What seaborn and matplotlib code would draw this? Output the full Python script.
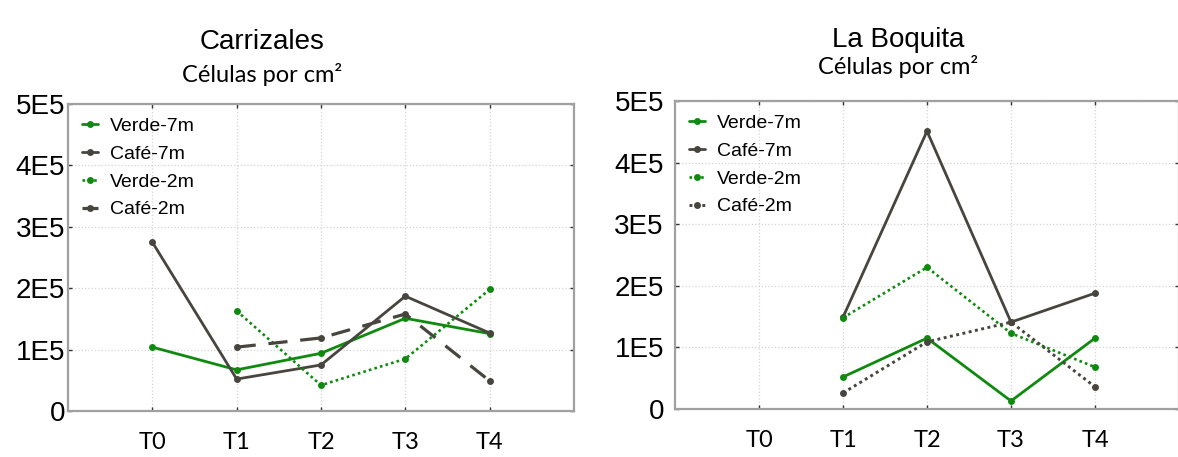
import numpy as np
import pandas as pd
import matplotlib
matplotlib.use("Agg")
import matplotlib.pyplot as plt
import seaborn as sns

tiempos = ['T0', 'T1', 'T2', 'T3', 'T4']
series = ['Verde-7m', 'Café-7m', 'Verde-2m', 'Café-2m']

# Carrizales (células por cm²)
carr_verde_7m = [1.04e5, 0.67e5, 0.94e5, 1.51e5, 1.26e5]
carr_cafe_7m = [2.75e5, 0.52e5, 0.75e5, 1.87e5, 1.27e5]
carr_verde_2m = [np.nan, 1.63e5, 0.42e5, 0.85e5, 1.98e5]
carr_cafe_2m = [np.nan, 1.04e5, 1.19e5, 1.58e5, 0.49e5]

# La Boquita
boq_verde_7m = [np.nan, 0.52e5, 1.15e5, 0.13e5, 1.15e5]
boq_cafe_7m = [np.nan, 1.49e5, 4.51e5, 1.41e5, 1.88e5]
boq_verde_2m = [np.nan, 1.48e5, 2.30e5, 1.23e5, 0.68e5]
boq_cafe_2m = [np.nan, 0.26e5, 1.09e5, 1.41e5, 0.36e5]

yticks = [0, 1e5, 2e5, 3e5, 4e5, 5e5]
ylabels = ['0', '1E5', '2E5', '3E5', '4E5', '5E5']

sns.set_theme(style="white")
plt.rcParams['font.family'] = ['Liberation Sans', 'DejaVu Sans']
plt.rcParams['text.color'] = 'black'
plt.rcParams['xtick.color'] = 'black'
plt.rcParams['ytick.color'] = 'black'

VERDE = '#0f8a0f'
CAFE = '#48453e'

fig = plt.figure(figsize=(11.78, 4.57), dpi=100)
ax1 = fig.add_axes([68/1178, 46/457, 506/1178, 307/457])
ax2 = fig.add_axes([675/1178, 48/457, 504/1178, 308/457])

paneles = [
    (ax1, [carr_verde_7m, carr_cafe_7m, carr_verde_2m, carr_cafe_2m], (0, (6, 4)), 2.3),
    (ax2, [boq_verde_7m, boq_cafe_7m, boq_verde_2m, boq_cafe_2m], (0, (1, 1.2)), 2.1),
]

for ax, datos, cafe2_ls, cafe2_lw in paneles:
    estilos = [
        dict(color=VERDE, linestyle='-', linewidth=2.0),
        dict(color=CAFE, linestyle='-', linewidth=2.0),
        dict(color=VERDE, linestyle=(0, (1, 1.2)), linewidth=1.9),
        dict(color=CAFE, linestyle=cafe2_ls, linewidth=cafe2_lw),
    ]
    for nombre, vals, est in zip(series, datos, estilos):
        df = pd.DataFrame({'x': np.arange(len(tiempos)), 'y': vals}).dropna()
        sns.lineplot(data=df, x='x', y='y', ax=ax, label=nombre, marker='o',
                     markersize=5, markeredgewidth=0, **est)

    ax.set_xlim(-1, 5)
    ax.set_ylim(0, 5e5)
    ax.set_xticks(range(len(tiempos)))
    ax.set_xticklabels(tiempos, family=['Lato', 'DejaVu Sans'], fontsize=17)
    ax.set_yticks(yticks)
    ax.set_yticklabels(ylabels, fontsize=20)
    ax.set_xlabel('')
    ax.set_ylabel('')
    ax.grid(True, color='#d4d4d4', linestyle=':', linewidth=0.9)
    ax.tick_params(axis='both', direction='in', length=3, width=1, color='#333333',
                   top=True, right=True, bottom=True, left=True)
    ax.tick_params(axis='x', pad=15)
    for sp in ax.spines.values():
        sp.set_color('#a0a0a0')
        sp.set_linewidth(1.6)
    ax.legend(loc='upper left', frameon=False, fontsize=14, handlelength=0.85,
              handletextpad=0.6, labelspacing=0.52, borderaxespad=0.3,
              bbox_to_anchor=(0.0, 1.0))

ax1.tick_params(axis='y', pad=2)
ax2.tick_params(axis='y', pad=8)

fig.text(262/1178, 1 - 42/457, 'Carrizales', ha='center', va='center', fontsize=20)
fig.text(262/1178, 1 - 75/457, 'Células por cm²', ha='center', va='center', fontsize=17,
         family=['Lato', 'DejaVu Sans'])
fig.text(898/1178, 1 - 40/457, 'La Boquita', ha='center', va='center', fontsize=20)
fig.text(898/1178, 1 - 67/457, 'Células por cm²', ha='center', va='center', fontsize=17,
         family=['Lato', 'DejaVu Sans'])

plt.savefig('out.png', dpi=100)
plt.close()
